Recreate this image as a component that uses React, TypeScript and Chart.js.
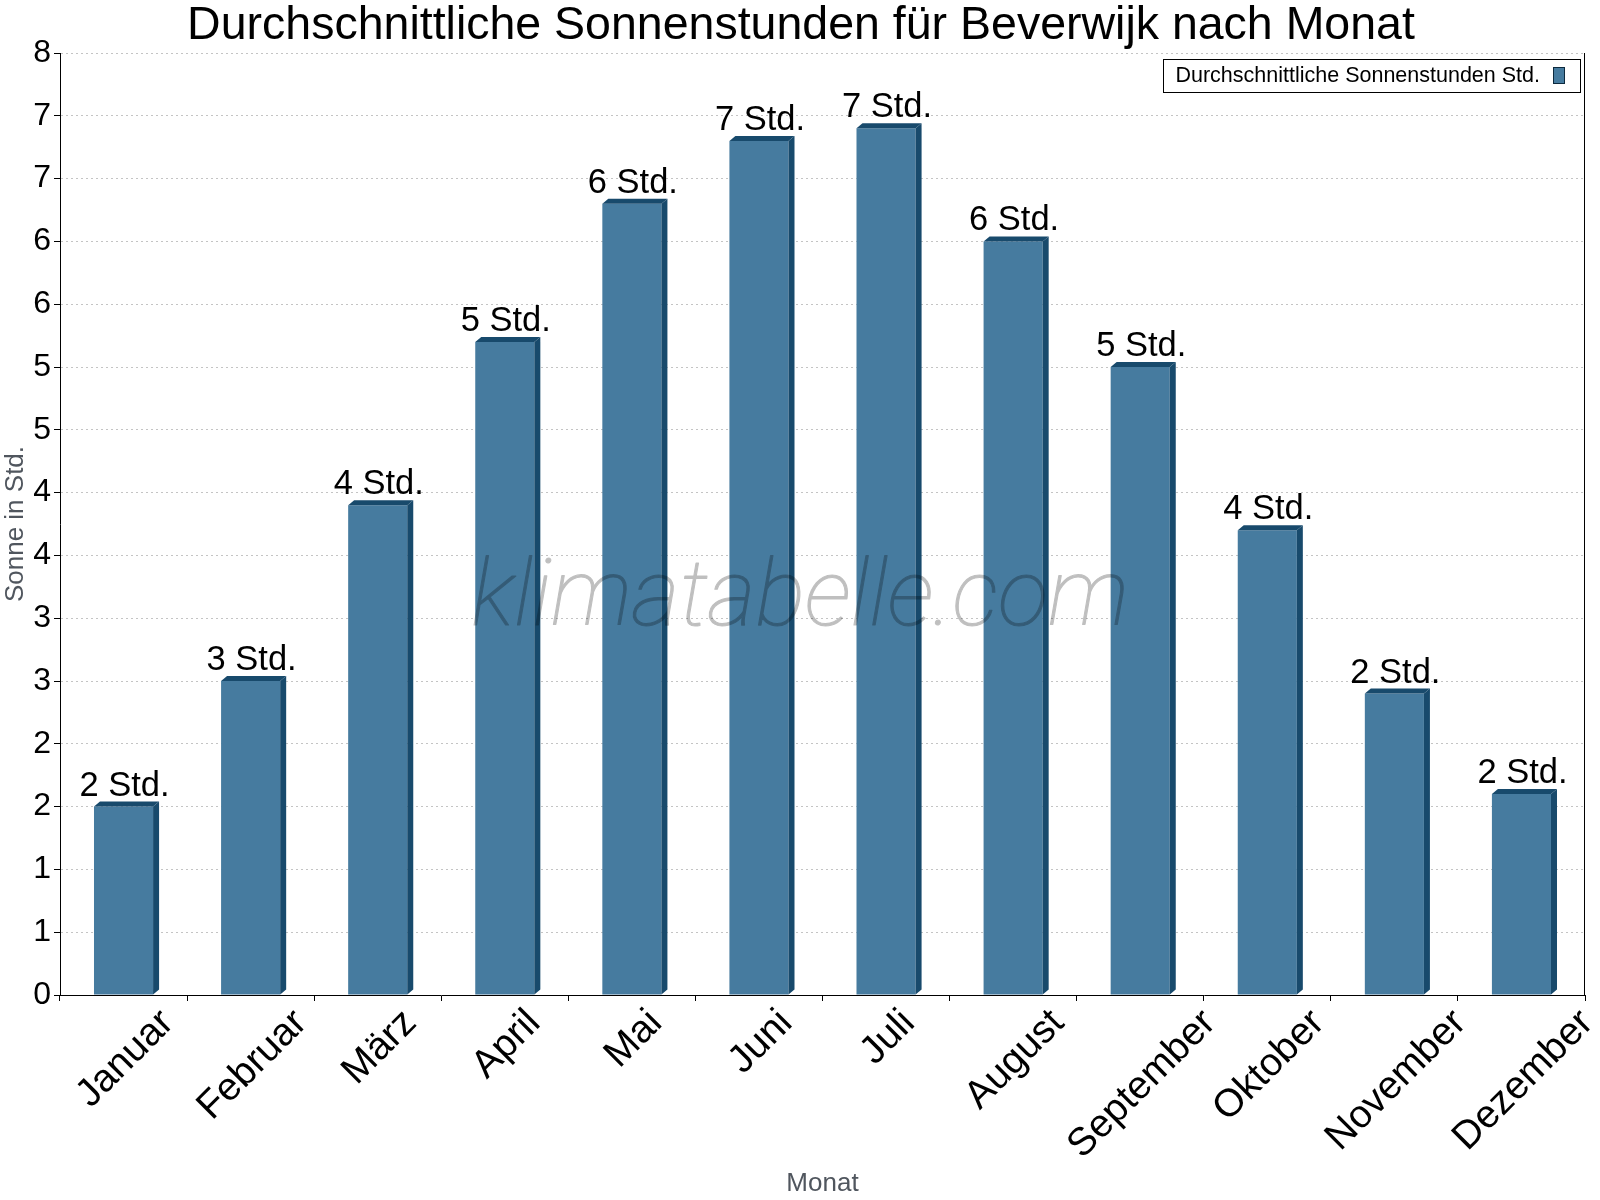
import React, { useEffect, useRef } from 'react';
import { Chart, registerables } from 'chart.js';

Chart.register(...registerables);

// ---- data ----
const months = ['Januar', 'Februar', 'März', 'April', 'Mai', 'Juni', 'Juli', 'August', 'September', 'Oktober', 'November', 'Dezember'];
const sunHours = [1.5, 2.5, 3.9, 5.2, 6.3, 6.8, 6.9, 6.0, 5.0, 3.7, 2.4, 1.6];
const seriesLabel = 'Durchschnittliche Sonnenstunden Std.';
const titleText = 'Durchschnittliche Sonnenstunden für Beverwijk nach Monat';
const yAxisTitle = 'Sonne in Std.';
const xAxisTitle = 'Monat';
const watermarkText = 'klimatabelle.com';
const valueSuffix = ' Std.';
const yMin = 0;
const yMax = 7.5;
const yStep = 0.5;

// ---- styles ----
const FONT = '"Liberation Sans", Arial, Helvetica, sans-serif';
const FRONT = '#467b9f';
const DARK = '#184a6c';
const DX = 6;
const DY = 5;
const AXIS_GREY = '#50565e';

const decorPlugin = {
  id: 'decor',
  afterDatasetsDraw(chart: any) {
    const ctx = chart.ctx;
    const meta = chart.getDatasetMeta(0);
    ctx.save();
    meta.data.forEach((bar: any, i: number) => {
      const { x, y, base, width } = bar.getProps(['x', 'y', 'base', 'width'], true);
      const l = x - width / 2;
      const r = x + width / 2;
      ctx.fillStyle = DARK;
      ctx.beginPath();
      ctx.moveTo(r, base);
      ctx.lineTo(r + DX, base - DY);
      ctx.lineTo(r + DX, y - DY);
      ctx.lineTo(r, y);
      ctx.closePath();
      ctx.fill();
      ctx.beginPath();
      ctx.moveTo(l, y);
      ctx.lineTo(l + DX, y - DY);
      ctx.lineTo(r + DX, y - DY);
      ctx.lineTo(r, y);
      ctx.closePath();
      ctx.fill();
      ctx.fillStyle = '#000';
      ctx.font = `34.5px ${FONT}`;
      ctx.textAlign = 'center';
      ctx.textBaseline = 'alphabetic';
      ctx.fillText(Math.round(sunHours[i]) + valueSuffix, x + 1, y - 11);
    });
    ctx.restore();
  },
  afterDraw(chart: any) {
    const ctx = chart.ctx;
    const area = chart.chartArea;
    const xs = chart.scales.x;
    ctx.save();

    // right border
    ctx.strokeStyle = '#000';
    ctx.lineWidth = 1;
    ctx.beginPath();
    ctx.moveTo(Math.round(area.right) - 0.5, area.top);
    ctx.lineTo(Math.round(area.right) - 0.5, area.bottom);
    ctx.stroke();

    // x labels (rotated, centred under category)
    const xFont = 39;
    ctx.fillStyle = '#000';
    ctx.font = `${xFont}px ${FONT}`;
    ctx.textAlign = 'center';
    ctx.textBaseline = 'middle';
    months.forEach((m, i) => {
      const cx = xs.getPixelForValue(i);
      const w = ctx.measureText(m).width;
      const h = xFont * 0.72;
      const half = 0.7071 * (w + h) / 2;
      const cy = area.bottom + 12 + half;
      ctx.save();
      ctx.translate(cx + 2, cy);
      ctx.rotate(-Math.PI / 4);
      ctx.fillText(m, 0, 0);
      ctx.restore();
    });

    // axis titles
    ctx.fillStyle = AXIS_GREY;
    ctx.font = `26px ${FONT}`;
    ctx.textAlign = 'center';
    ctx.textBaseline = 'middle';
    ctx.fillText(xAxisTitle, (area.left + area.right) / 2, 1184);
    ctx.save();
    ctx.translate(16, (area.top + area.bottom) / 2);
    ctx.rotate(-Math.PI / 2);
    ctx.fillText(yAxisTitle, 0, 0);
    ctx.restore();

    // title
    ctx.fillStyle = '#000';
    ctx.font = `46.5px ${FONT}`;
    ctx.textAlign = 'center';
    ctx.textBaseline = 'alphabetic';
    ctx.fillText(titleText, 801, 39);

    // legend
    ctx.font = `21.5px ${FONT}`;
    const tw = ctx.measureText(seriesLabel).width;
    const lbRight = area.right - 5;
    const boxX = lbRight - 27;
    const textRight = boxX - 13;
    const lbLeft = textRight - tw - 12;
    const lbTop = 59;
    const lbH = 33;
    ctx.fillStyle = '#fff';
    ctx.fillRect(lbLeft, lbTop, lbRight - lbLeft, lbH);
    ctx.strokeStyle = '#000';
    ctx.strokeRect(Math.round(lbLeft) + 0.5, lbTop + 0.5, Math.round(lbRight - lbLeft), lbH);
    ctx.fillStyle = '#000';
    ctx.textAlign = 'left';
    ctx.textBaseline = 'middle';
    ctx.fillText(seriesLabel, textRight - tw, lbTop + lbH / 2 + 1);
    ctx.fillStyle = FRONT;
    ctx.fillRect(boxX, lbTop + 8, 12, 17);
    ctx.strokeStyle = '#0d2a3e';
    ctx.strokeRect(boxX + 0.5, lbTop + 8.5, 11, 16);

    // watermark: rendered opaque offscreen (slightly thickened), composited with alpha
    const off = document.createElement('canvas');
    off.width = chart.width;
    off.height = chart.height;
    const octx = off.getContext('2d');
    if (octx) {
      octx.fillStyle = '#000';
      octx.strokeStyle = '#000';
      octx.lineWidth = 1.1;
      octx.lineJoin = 'round';
      octx.font = `italic 100 93px Roboto, "Open Sans", sans-serif`;
      octx.textAlign = 'center';
      octx.textBaseline = 'alphabetic';
      octx.fillText(watermarkText, 800, 625);
      octx.strokeText(watermarkText, 800, 625);
      ctx.globalAlpha = 0.25;
      ctx.drawImage(off, 0, 0);
      ctx.globalAlpha = 1;
    }

    ctx.restore();
  },
};

export default function App() {
  const ref = useRef<HTMLCanvasElement | null>(null);

  useEffect(() => {
    document.body.style.margin = '0';
    const canvas = ref.current;
    if (!canvas) return;
    Chart.defaults.font.family = FONT;
    const chart = new Chart(canvas, {
      type: 'bar',
      data: {
        labels: months,
        datasets: [
          {
            label: seriesLabel,
            data: sunHours,
            backgroundColor: FRONT,
            borderWidth: 0,
            barPercentage: 0.465,
            categoryPercentage: 1,
          },
        ],
      },
      options: {
        responsive: false,
        animation: false,
        devicePixelRatio: 1,
        layout: { padding: { top: 53, right: 15, left: 0, bottom: 0 } },
        plugins: {
          legend: { display: false },
          title: { display: false },
          tooltip: { enabled: false },
        },
        scales: {
          x: {
            ticks: { display: false },
            grid: { drawOnChartArea: false, drawTicks: true, tickLength: 6, color: '#000', offset: true },
            border: { color: '#000', width: 1 },
            afterFit: (s: any) => { s.height = 205; },
          },
          y: {
            min: yMin,
            max: yMax,
            ticks: {
              stepSize: yStep,
              callback: (v: any) => String(Math.round(Number(v))),
              color: '#000',
              font: { size: 32, family: FONT },
              padding: 3,
            },
            grid: {
              color: (c: any) => (c.tick && c.tick.value === 0 ? 'rgba(0,0,0,0)' : '#c4c4c4'),
              tickColor: '#000',
              tickLength: 6,
              lineWidth: 1,
            },
            border: { color: '#000', width: 1, dash: [2, 3] },
            afterFit: (s: any) => { s.width = 60; },
          },
        },
      },
      plugins: [decorPlugin],
    });
    return () => chart.destroy();
  }, []);

  return (
    <div style={{ position: 'absolute', left: 0, top: 0, width: 1600, height: 1200, background: '#fff' }}>
      <canvas ref={ref} width={1600} height={1200} style={{ width: 1600, height: 1200, display: 'block' }} />
    </div>
  );
}
